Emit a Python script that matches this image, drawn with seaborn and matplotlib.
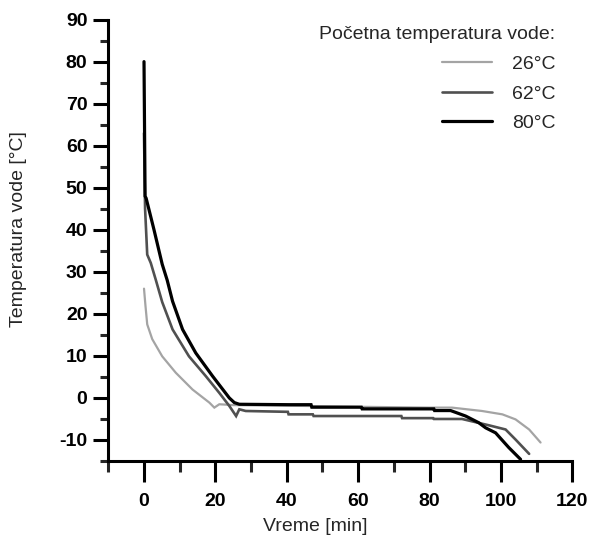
import pandas as pd
import matplotlib
matplotlib.use("Agg")
import matplotlib.pyplot as plt
from matplotlib.ticker import MultipleLocator
import seaborn as sns

# Podaci očitani sa grafika (vreme [min], temperatura [°C])
t_26 = [0, 0.4, 0.9, 2.3, 5.1, 8.9, 13.6, 18.3, 19.7, 21.1, 25, 45, 60, 80, 86.3,
        94.7, 100.4, 104.1, 107.9, 111.1]
T_26 = [26, 22, 17.5, 14.0, 9.9, 6.0, 2.0, -1.1, -2.3, -1.5, -1.7, -1.9, -2.1, -2.3, -2.3,
        -3.1, -3.9, -5.1, -7.5, -10.6]

t_62 = [0, 0.3, 0.9, 1.9, 3.3, 5.1, 8.0, 12.6, 17.3, 21.1, 23.9, 25.8, 26.7, 28.5,
        40.3, 40.5, 47.3, 47.5, 72.1, 72.3, 81, 81.2, 89.1, 96.6, 101.3, 104.1, 107.9]
T_62 = [63, 45, 34.1, 32.1, 28.1, 22.8, 16.3, 9.9, 5.2, 1.2, -1.9, -4.3, -2.7, -3.1,
        -3.3, -3.9, -3.9, -4.3, -4.3, -4.8, -4.8, -5.0, -5.0, -6.5, -7.5, -9.9, -13.3]

t_80 = [0, 0.3, 0.6, 2.8, 5.1, 6.5, 8.0, 10.8, 14.5, 19.2, 23.9, 25.3, 26.7, 40.7,
        46.8, 47.0, 60.9, 61.1, 81.2, 81.4, 85.9, 90.1, 93.8, 95.7, 98.5, 102.2, 105.5]
T_80 = [80, 48, 47.5, 40, 31.8, 28, 23, 16.3, 10.7, 5.2, 0, -1.1, -1.5, -1.6,
        -1.6, -2.2, -2.2, -2.6, -2.6, -3.0, -3.0, -4.3, -5.9, -7.1, -8.3, -11.8, -14.6]

series = ["26°C", "62°C", "80°C"]
colors = ["#a4a4a4", "#505050", "#000000"]
widths = [1.6, 1.9, 2.3]

df = pd.concat([
    pd.DataFrame({"t": t_26, "T": T_26, "serija": series[0]}),
    pd.DataFrame({"t": t_62, "T": T_62, "serija": series[1]}),
    pd.DataFrame({"t": t_80, "T": T_80, "serija": series[2]}),
])

sns.set_style("ticks")
plt.rcParams["font.family"] = ["Liberation Sans", "DejaVu Sans"]
plt.rcParams["axes.unicode_minus"] = False

fig = plt.figure(figsize=(5.89, 5.37), dpi=100)
ax = fig.add_axes([0.1839, 0.1415, 0.9717 - 0.1839, 0.9635 - 0.1415])

sns.lineplot(data=df, x="t", y="T", hue="serija", hue_order=series,
             palette=dict(zip(series, colors)), estimator=None, sort=False,
             legend=False, ax=ax)
for line, lw in zip(ax.lines, widths):
    line.set_linewidth(lw)
    line.set_solid_joinstyle("miter")

ax.set_xlim(-10, 120)
ax.set_ylim(-15, 90)
ax.xaxis.set_major_locator(MultipleLocator(20))
ax.xaxis.set_minor_locator(MultipleLocator(10))
ax.yaxis.set_major_locator(MultipleLocator(10))
ax.yaxis.set_minor_locator(MultipleLocator(5))

for s in ["top", "right"]:
    ax.spines[s].set_visible(False)
for s in ["left", "bottom"]:
    ax.spines[s].set_linewidth(2.2)
    ax.spines[s].set_color("black")

ax.tick_params(axis="x", which="major", direction="out", length=15, width=2.2,
               pad=8, labelsize=14, colors="black")
ax.tick_params(axis="x", which="minor", direction="out", length=8, width=2.2)
ax.tick_params(axis="y", which="major", direction="out", length=11, width=2.2,
               pad=4, labelsize=14, colors="black")
ax.tick_params(axis="y", which="minor", direction="out", length=6, width=2.2)
for lab in ax.get_xticklabels() + ax.get_yticklabels():
    lab.set_fontweight("bold")

ax.set_xlabel("Vreme [min]", fontsize=14)
ax.set_ylabel("Temperatura vode [°C]", fontsize=14)
ax.xaxis.set_label_coords(0.445, -0.13)
ax.yaxis.set_label_coords(-0.175, 0.526)

leg = ax.legend(ax.lines, series, title="Početna temperatura vode:",
                loc="upper right", bbox_to_anchor=(0.963, 0.985), frameon=False,
                fontsize=14, title_fontsize=14, borderaxespad=0, borderpad=0,
                handlelength=2.6, handletextpad=1.0, labelspacing=0.62)
leg._legend_box.align = "right"

fig.savefig("out.png", dpi=100)
